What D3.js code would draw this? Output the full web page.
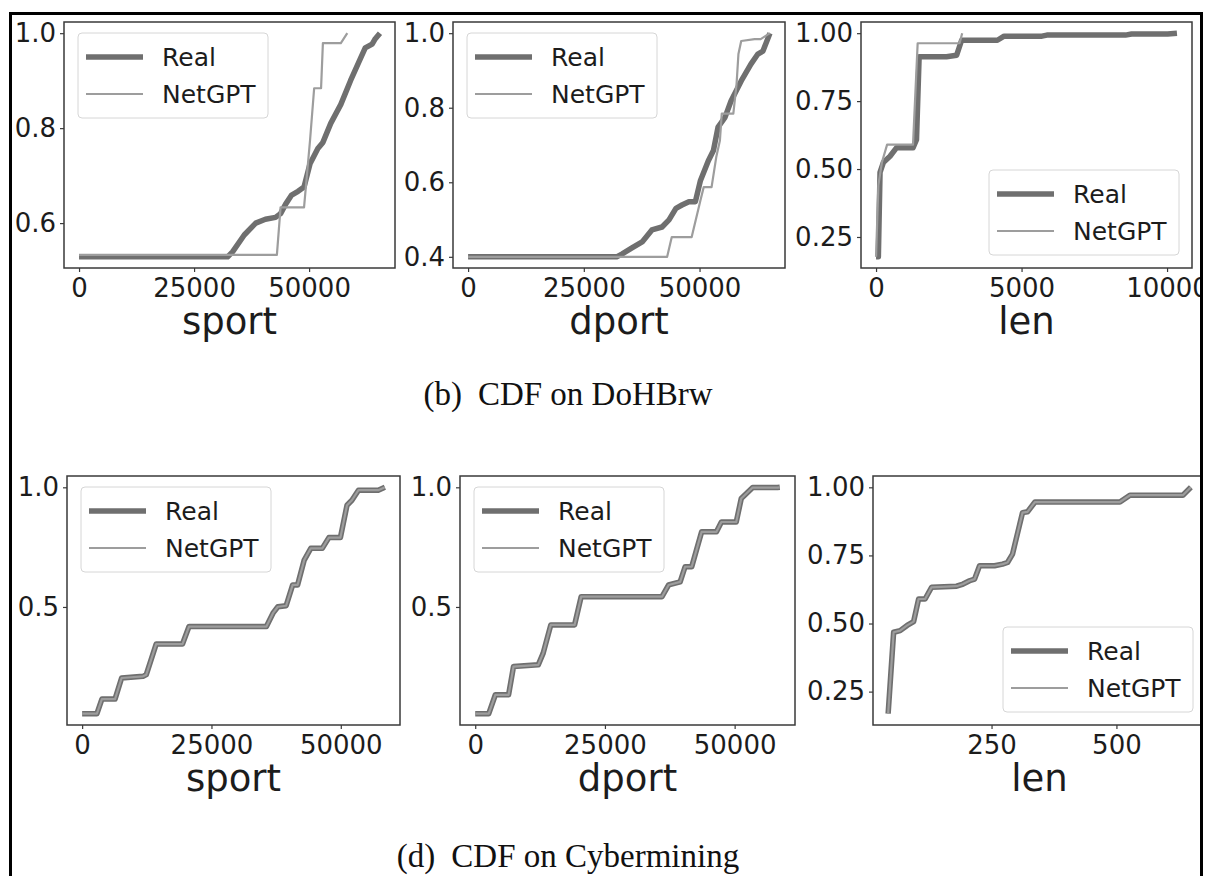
<!DOCTYPE html>
<html>
<head>
<meta charset="utf-8">
<script src="https://cdn.jsdelivr.net/npm/d3@7"></script>
<style>
  html, body { margin: 0; padding: 0; background: #fff; }
  svg { display: block; }
</style>
</head>
<body>
<svg id="fig" width="1208" height="876"></svg>
<script>
// ---- CDF samples: [value, cumulative fraction] ----
// DoHBrw
const realSportDoH = [[0,0.529],[32300,0.529],[33400,0.54],[35900,0.575],[38400,0.60],[40500,0.608],[42700,0.612],[43800,0.62],[44900,0.64],[46200,0.659],[47600,0.667],[48900,0.676],[50200,0.725],[51900,0.757],[53000,0.77],[54700,0.81],[56900,0.85],[59000,0.90],[60900,0.941],[62200,0.969],[63700,0.977],[64300,0.987],[65400,1.0]];
const gptSportDoH = [[0,0.533],[43000,0.533],[43800,0.633],[48900,0.633],[50200,0.774],[51100,0.884],[52600,0.884],[53000,0.979],[56900,0.979],[58300,1.0]];

const realDportDoH = [[0,0.40],[32100,0.40],[33300,0.408],[35400,0.424],[37600,0.44],[39700,0.472],[41900,0.48],[43400,0.499],[44900,0.53],[46200,0.539],[47700,0.548],[49100,0.548],[50200,0.605],[51900,0.658],[53000,0.685],[54000,0.748],[55500,0.774],[56800,0.818],[59000,0.872],[61100,0.917],[62600,0.944],[63700,0.952],[65200,1.0]];
const gptDportDoH = [[0,0.40],[43000,0.40],[44000,0.453],[48300,0.453],[50200,0.552],[50900,0.587],[52600,0.587],[53600,0.667],[54400,0.712],[54800,0.784],[57300,0.784],[58000,0.864],[58400,0.944],[59000,0.979],[61900,0.984],[63200,0.984],[65200,1.0]];

const realLenDoH = [[0,0.177],[80,0.177],[137,0.488],[250,0.524],[480,0.547],[700,0.578],[1270,0.578],[1390,0.608],[1480,0.913],[2420,0.913],[2770,0.919],[2940,0.974],[4170,0.974],[4400,0.989],[5700,0.989],[5870,0.993],[8570,0.993],[8780,0.997],[10020,0.997],[10340,1.0]];
const gptLenDoH = [[0,0.177],[80,0.44],[200,0.524],[380,0.59],[1270,0.59],[1430,0.963],[2870,0.963],[2960,1.0]];

// Cybermining
const realSportCyb = [[0,0.054],[2860,0.054],[3820,0.115],[6360,0.115],[7630,0.203],[11770,0.21],[12400,0.217],[14310,0.345],[19400,0.345],[20660,0.418],[35620,0.418],[36890,0.474],[37840,0.501],[39430,0.505],[40700,0.592],[41650,0.592],[42930,0.696],[44200,0.745],[46420,0.745],[47700,0.79],[49930,0.79],[51200,0.925],[52150,0.946],[53420,0.988],[57240,0.988],[58520,1.0]];
const gptSportCyb = [[0,0.054],[2860,0.054],[3820,0.115],[6360,0.115],[7630,0.203],[11770,0.21],[12400,0.217],[14310,0.345],[19400,0.345],[20660,0.418],[35620,0.418],[36890,0.474],[37840,0.501],[39430,0.505],[40700,0.592],[41650,0.592],[42930,0.696],[44200,0.745],[46420,0.745],[47700,0.79],[49930,0.79],[51200,0.925],[52150,0.946],[53420,0.988],[57240,0.988],[58520,1.0]];

const realDportCyb = [[0,0.054],[2610,0.054],[3880,0.133],[6430,0.133],[7380,0.251],[12150,0.258],[13100,0.307],[14570,0.425],[19150,0.425],[20420,0.543],[36000,0.543],[37280,0.592],[39500,0.605],[40450,0.668],[41730,0.668],[43640,0.814],[46500,0.814],[47450,0.855],[50310,0.855],[51270,0.953],[53480,0.999],[58250,0.999],[58700,1.0]];
const gptDportCyb = [[0,0.054],[2610,0.054],[3880,0.133],[6430,0.133],[7380,0.251],[12150,0.258],[13100,0.307],[14570,0.425],[19150,0.425],[20420,0.543],[36000,0.543],[37280,0.592],[39500,0.605],[40450,0.668],[41730,0.668],[43640,0.814],[46500,0.814],[47450,0.855],[50310,0.855],[51270,0.953],[53480,0.999],[58250,0.999],[58700,1.0]];

const realLenCyb = [[43,0.169],[54,0.468],[67,0.474],[81,0.493],[94,0.507],[104,0.59],[117,0.59],[130,0.633],[180,0.637],[193,0.645],[206,0.657],[216,0.663],[226,0.712],[256,0.712],[272,0.718],[282,0.724],[292,0.755],[312,0.907],[322,0.91],[337,0.946],[507,0.946],[527,0.971],[633,0.971],[649,1.0]];
const gptLenCyb = [[43,0.169],[54,0.468],[67,0.474],[81,0.493],[94,0.507],[104,0.59],[117,0.59],[130,0.633],[180,0.637],[193,0.645],[206,0.657],[216,0.663],[226,0.712],[256,0.712],[272,0.718],[282,0.724],[292,0.755],[312,0.907],[322,0.91],[337,0.946],[507,0.946],[527,0.971],[633,0.971],[649,1.0]];

// ---- ticks and labels ----
const portTicksX = [0, 25000, 50000];
const lenTicksXDoH = [0, 5000, 10000];
const lenTicksXCyb = [250, 500];
const sportTicksYDoH = [0.6, 0.8, 1.0];
const dportTicksYDoH = [0.4, 0.6, 0.8, 1.0];
const quarterTicksY = [0.25, 0.5, 0.75, 1.0];
const halfTicksY = [0.5, 1.0];
const seriesNames = ["Real", "NetGPT"];
const axisNames = ["sport", "dport", "len"];
const captions = [["(b)", "CDF on DoHBrw"], ["(d)", "CDF on Cybermining"]];

// ---- layout ----
const panels = [
  { real: realSportDoH, gpt: gptSportDoH, name: axisNames[0], xt: portTicksX, yt: sportTicksYDoH, yf: ".1f", box: [64, 22, 395, 268], leg: "ul" },
  { real: realDportDoH, gpt: gptDportDoH, name: axisNames[1], xt: portTicksX, yt: dportTicksYDoH, yf: ".1f", box: [453, 22, 785, 268], leg: "ul" },
  { real: realLenDoH,   gpt: gptLenDoH,   name: axisNames[2], xt: lenTicksXDoH, yt: quarterTicksY, yf: ".2f", box: [861, 22, 1192, 268], leg: "lr" },
  { real: realSportCyb, gpt: gptSportCyb, name: axisNames[0], xt: portTicksX, yt: halfTicksY, yf: ".1f", box: [67, 476, 400, 725], leg: "ul" },
  { real: realDportCyb, gpt: gptDportCyb, name: axisNames[1], xt: portTicksX, yt: halfTicksY, yf: ".1f", box: [460, 476, 795, 725], leg: "ul" },
  { real: realLenCyb,   gpt: gptLenCyb,   name: axisNames[2], xt: lenTicksXCyb, yt: quarterTicksY, yf: ".2f", box: [873, 476, 1206, 725], leg: "lr" }
];

const REAL_COLOR = "#6f6f6f";
const GPT_COLOR = "#9d9d9d";
const SPINE = "#3a3a3a";
const TEXT = "#1c1c1c";
const SANS = "'DejaVu Sans', sans-serif";

const svg = d3.select("#fig");
const defs = svg.append("defs");
defs.append("clipPath").attr("id", "sheet")
  .append("rect").attr("x", 12).attr("y", 15).attr("width", 1188).attr("height", 880);

const sheet = svg.append("g").attr("clip-path", "url(#sheet)");

function paddedExtent(values) {
  const [lo, hi] = d3.extent(values);
  const m = (hi - lo) * 0.05;
  return [lo - m, hi + m];
}

panels.forEach((p, i) => {
  const [x0, y0, x1, y1] = p.box;
  const all = p.real.concat(p.gpt);
  const x = d3.scaleLinear().domain(paddedExtent(all.map(d => d[0]))).range([x0, x1]);
  const y = d3.scaleLinear().domain(paddedExtent(all.map(d => d[1]))).range([y1, y0]);
  const g = sheet.append("g");

  const cid = "plotclip" + i;
  defs.append("clipPath").attr("id", cid)
    .append("rect").attr("x", x0).attr("y", y0).attr("width", x1 - x0).attr("height", y1 - y0);

  const line = d3.line().x(d => x(d[0])).y(d => y(d[1]));
  const plot = g.append("g").attr("clip-path", `url(#${cid})`);
  plot.append("path").datum(p.real).attr("d", line)
    .attr("fill", "none").attr("stroke", REAL_COLOR).attr("stroke-width", 5.5)
    .attr("stroke-linejoin", "round");
  plot.append("path").datum(p.gpt).attr("d", line)
    .attr("fill", "none").attr("stroke", GPT_COLOR).attr("stroke-width", 2.2)
    .attr("stroke-linejoin", "round");

  // axes
  const xAxis = d3.axisBottom(x).tickValues(p.xt).tickFormat(d3.format("d")).tickSizeOuter(0).tickSize(4).tickPadding(4);
  const yAxis = d3.axisLeft(y).tickValues(p.yt).tickFormat(d3.format(p.yf)).tickSizeOuter(0).tickSize(4).tickPadding(4);
  const gx = g.append("g").attr("transform", `translate(0,${y1})`).call(xAxis);
  const gy = g.append("g").attr("transform", `translate(${x0},0)`).call(yAxis);
  [gx, gy].forEach(a => {
    a.select(".domain").remove();
    a.selectAll(".tick line").attr("stroke", SPINE).attr("stroke-width", 1.2);
    a.selectAll(".tick text").attr("fill", TEXT).style("font-family", SANS).style("font-size", "26px");
  });
  gx.selectAll(".tick text").attr("dy", null).attr("y", 29).attr("dominant-baseline", "auto");

  // frame
  g.append("rect").attr("x", x0).attr("y", y0).attr("width", x1 - x0).attr("height", y1 - y0)
    .attr("fill", "none").attr("stroke", SPINE).attr("stroke-width", 1.5);

  // axis title
  g.append("text").attr("x", (x0 + x1) / 2).attr("y", y1 + 66)
    .attr("text-anchor", "middle").attr("fill", TEXT)
    .style("font-family", SANS).style("font-size", "37px").text(p.name);

  // legend
  const lw = 190, lh = 85;
  const lx = p.leg === "ul" ? x0 + 14 : (x1 - 13 - lw);
  const ly = p.leg === "ul" ? y0 + 11 : (y1 - 13 - lh);
  const lg = g.append("g").attr("transform", `translate(${lx},${ly})`);
  lg.append("rect").attr("width", lw).attr("height", lh).attr("rx", 4)
    .attr("fill", "#fff").attr("fill-opacity", 0.8).attr("stroke", "#d6d6d6").attr("stroke-width", 1);
  const entries = [
    { name: seriesNames[0], color: REAL_COLOR, w: 5.5 },
    { name: seriesNames[1], color: GPT_COLOR, w: 2.2 }
  ];
  entries.forEach((e, k) => {
    const cy = 24 + k * 37;
    lg.append("line").attr("x1", 8).attr("x2", 65).attr("y1", cy).attr("y2", cy)
      .attr("stroke", e.color).attr("stroke-width", e.w);
    lg.append("text").attr("x", 84).attr("y", cy + 9).attr("fill", TEXT)
      .style("font-family", SANS).style("font-size", "25px").text(e.name);
  });
});

// sub-figure captions
const capY = [405, 867];
captions.forEach((c, i) => {
  const t = sheet.append("text").attr("x", 568).attr("y", capY[i]).attr("text-anchor", "middle")
    .attr("fill", "#111").style("font-family", "'Liberation Serif', 'Times New Roman', serif").style("font-size", "33px");
  t.append("tspan").text(c[0]);
  t.append("tspan").attr("dx", 16).text(c[1]);
});

// outer border
svg.append("rect").attr("x", 10.5).attr("y", 13.5).attr("width", 1191).attr("height", 900)
  .attr("fill", "none").attr("stroke", "#000").attr("stroke-width", 3);
</script>
</body>
</html>
